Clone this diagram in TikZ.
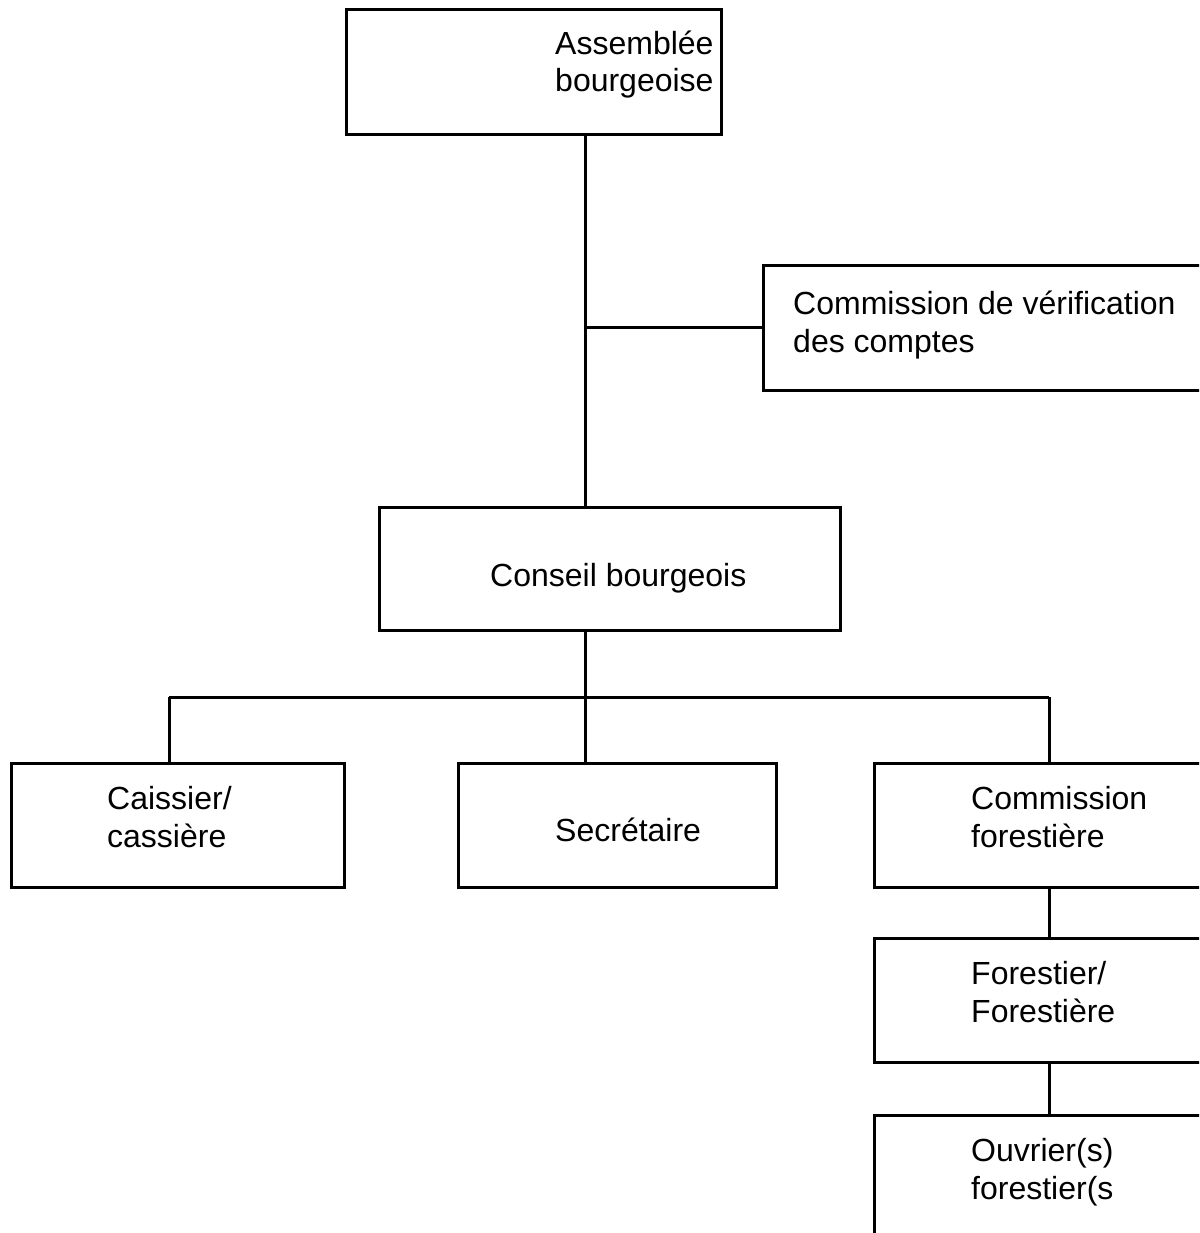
\documentclass[tikz,border=0pt]{standalone}
\usepackage{fontspec}
\setmainfont{Liberation Sans}
\begin{document}
\begin{tikzpicture}[x=1pt, y=-1pt,
    box/.style={draw, line width=3pt, inner sep=0pt},
    lbl/.style={anchor=base west, align=left, inner sep=0pt,
      font=\fontsize{32}{37.5}\selectfont},
    link/.style={line width=3pt}]
    \path[use as bounding box, clip] (0,0) rectangle (1199,1233);

    % Draw boxes
    \node[box, minimum width=375pt, minimum height=125pt] (assemblee) at (533.5,72.5) {};
    \node[box, minimum width=497pt, minimum height=125pt] (verif) at (1011.5,327.5) {};
    \node[box, minimum width=461pt, minimum height=123pt] (conseil) at (609.5,568.5) {};
    \node[box, minimum width=333pt, minimum height=124pt] (caissier) at (177.5,825) {};
    \node[box, minimum width=318pt, minimum height=124pt] (secretaire) at (617,825) {};
    \node[box, minimum width=386pt, minimum height=124pt] (comforest) at (1067,825) {};
    \node[box, minimum width=386pt, minimum height=124pt] (forestier) at (1067,1000) {};
    \node[box, minimum width=386pt, minimum height=180pt] (ouvrier) at (1067,1205) {};

    % Add texts (base = last line)
    \node[lbl] (assembleetxt) at (555,92) {Assemblée\\bourgeoise};
    \node[lbl] (veriftxt) at (793,352) {Commission de vérification\\des comptes};
    \node[lbl] (conseiltxt) at (490,586) {Conseil bourgeois};
    \node[lbl] (caissiertxt) at (107,847) {Caissier/\\cassière};
    \node[lbl] (secretairetxt) at (555,841) {Secrétaire};
    \node[lbl] (comforesttxt) at (971,847) {Commission\\forestière};
    \node[lbl] (forestiertxt) at (971,1022) {Forestier/\\Forestière};
    \node[lbl] (ouvriertxt) at (971,1199) {Ouvrier(s)\\forestier(s};

    % Draw links
    \coordinate (trunk) at (585,0);
    \coordinate (leftdrop) at (169,697);
    \coordinate (middrop) at (585,697);
    \coordinate (rightdrop) at (1049,697);
    \draw[link] (assemblee.south -| trunk) -- (conseil.north -| trunk);
    \draw[link] (verif.west) -- (verif.west -| trunk);
    \draw[link] (conseil.south -| trunk) -- (middrop);
    \draw[link] (leftdrop) -- (rightdrop);
    \foreach \d/\b in {leftdrop/caissier, middrop/secretaire, rightdrop/comforest} {
      \draw[link] (\d) -- (\d |- \b.north);
    }
    \draw[link] (comforest.south -| rightdrop) -- (forestier.north -| rightdrop);
    \draw[link] (forestier.south -| rightdrop) -- (ouvrier.north -| rightdrop);
\end{tikzpicture}
\end{document}
